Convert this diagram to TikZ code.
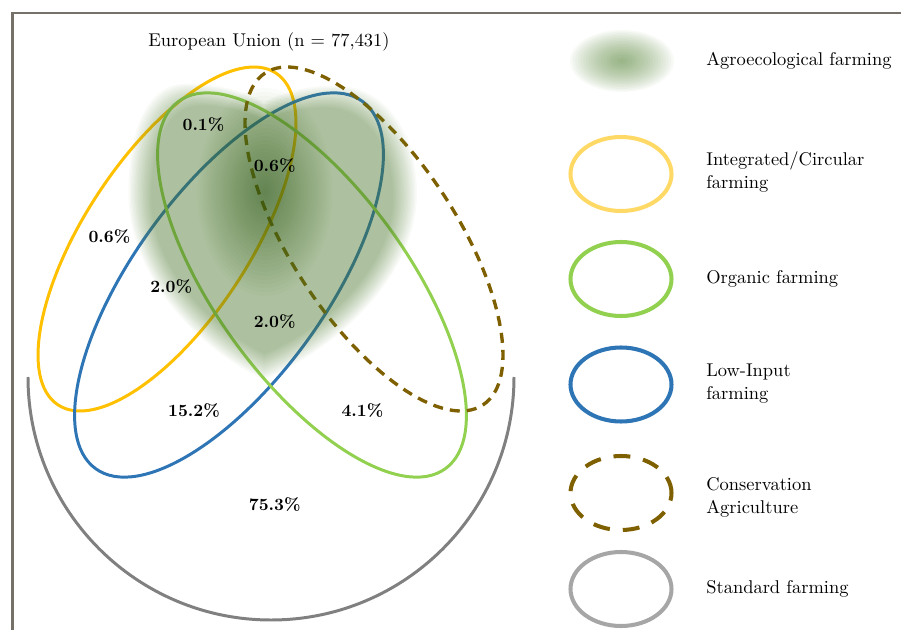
\documentclass[tikz,border=0pt]{standalone}
\usepackage{fontspec}
\usetikzlibrary{positioning}
\definecolor{yellowset}{RGB}{255,192,0}
\definecolor{blueset}{RGB}{46,117,182}
\definecolor{greenset}{RGB}{146,208,80}
\definecolor{brownset}{RGB}{127,96,0}
\definecolor{grayset}{RGB}{128,128,128}
\definecolor{lightyellow}{RGB}{255,217,102}
\definecolor{lightgray}{RGB}{166,166,166}
\definecolor{framegray}{RGB}{118,113,104}
\definecolor{agro}{RGB}{84,130,53}
\newcommand{\heartshape}{(26.4,-37.2) .. controls (20.5,-34.5) and (13.5,-27.5) .. (13.5,-19.5)
	.. controls (13.5,-13) and (15.5,-9) .. (19,-9)
	.. controls (22.5,-9) and (25.2,-10) .. (26.4,-10.8)
	.. controls (28,-9.8) and (30.5,-9.2) .. (33.3,-9.2)
	.. controls (37.5,-9.2) and (41,-13) .. (41,-19.5)
	.. controls (41,-27.5) and (33,-34.5) .. (26.4,-37.2) -- cycle}
\begin{document}
\begin{tikzpicture}[scale=0.2]
		\tikzstyle{every node}+=[inner sep=0pt]
		\tikzstyle{pct}=[font=\fontsize{9.8}{11}\selectfont\bfseries]
		\tikzstyle{legtext}=[anchor=west, align=left, font=\fontsize{10.5}{13.2}\selectfont]
		\tikzstyle{setline}=[line width=1.7pt]
		\tikzstyle{legline}=[line width=2.3pt]
		\useasboundingbox (0,0) rectangle (90.1,-63);
		\draw [framegray, line width=1.4pt] (90.1,-1.3) -- (1.25,-1.3) -- (1.25,-63);
		\draw (26.9,-4.2) node (title) {\fontsize{10.5}{12}\selectfont European Union (n = 77,431)};
		\draw [grayset, setline] (2.8,-37.7) arc (180:360:24.3);
		\draw [yellowset, setline] (16.7,-23.9) circle [x radius=19.85, y radius=8.25, rotate=56.7];
		\draw [blueset, setline] (22.9,-28.5) circle [x radius=22.7, y radius=9.6, rotate=54];
		\draw [greenset, setline] (31.2,-28.5) circle [x radius=22.7, y radius=9.6, rotate=-54];
		\draw [brownset, line width=1.9pt, dash pattern=on 5.7pt off 4pt] (37.4,-23.9) circle [x radius=19.85, y radius=8.25, rotate=-56.7];
		\begin{scope}[blend group=multiply]
			\foreach \s in {1.05,1.04,...,0.87}
				\fill [agro, opacity=0.031, scale around={\s:(27,-22)}] \heartshape;
			\foreach \r in {1,...,26}
				\fill [agro, opacity=0.026] (26.5,-19.2) ellipse ({\r*0.26} and {\r*0.4});
		\end{scope}
		\draw (20.35,-12.46) node [pct] (agroOnly) {0.1\%};
		\draw (27.47,-16.55) node [pct] (agroCore) {0.6\%};
		\draw (10.94,-23.7) node [pct] (circOnly) {0.6\%};
		\draw (17.12,-28.65) node [pct] (circLow) {2.0\%};
		\draw (27.47,-32.14) node [pct] (agroLow) {2.0\%};
		\draw (19.4,-41.06) node [pct] (lowOnly) {15.2\%};
		\draw (36.24,-41.06) node [pct] (orgOnly) {4.1\%};
		\draw (27.47,-50.43) node [pct] (stdOnly) {75.3\%};
		\foreach \r in {1,...,20}
			\fill [agro, opacity=0.045] (62.2,-6.1) ellipse ({\r*0.26} and {\r*0.155});
		\draw [lightyellow, legline] (62.1,-17.4) ellipse (5.05 and 3.7);
		\draw [greenset, legline] (62.1,-27.9) ellipse (5.05 and 3.7);
		\draw [blueset, legline] (62.1,-38.45) ellipse (5.05 and 3.7);
		\draw [brownset, legline, dash pattern=on 9.6pt off 7.4pt] (62.1,-49.3) ellipse (5.05 and 3.7);
		\draw [lightgray, legline] (62.1,-58.9) ellipse (5.05 and 3.7);
		\draw (70.6,-6.1) node [legtext] (agroKey) {Agroecological farming};
		\draw (70.6,-17.2) node [legtext] (circKey) {Integrated/Circular\\farming};
		\draw (70.6,-27.85) node [legtext] (orgKey) {Organic farming};
		\draw (70.6,-38.4) node [legtext] (lowKey) {Low-Input\\farming};
		\draw (70.6,-49.7) node [legtext] (consKey) {Conservation\\Agriculture};
		\draw (70.6,-58.9) node [legtext] (stdKey) {Standard farming};
	\end{tikzpicture}
\end{document}
